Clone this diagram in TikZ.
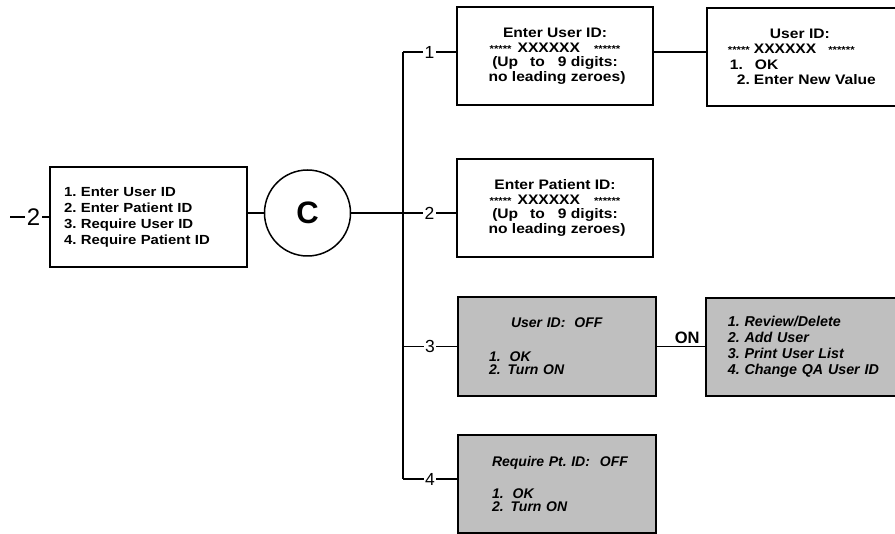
\documentclass[tikz,border=0pt]{standalone}
\usepackage{fontspec}
\setmainfont{Liberation Sans}
\newfontfamily\widesans[FakeStretch=1.13]{Liberation Sans}
\newcommand\astr[1]{{\fontsize{10}{10}\selectfont #1}}
\frenchspacing

\begin{document}
\begin{tikzpicture}[
  x=1pt,y=-1pt,
  wire/.style={draw=black,line width=1.5pt},
  scrn/.style={rectangle,draw=black,fill=white,line width=1.8pt,inner sep=0pt,
               align=center,font=\widesans\bfseries\fontsize{13.8}{14.5}\selectfont},
  greyscrn/.style={scrn,fill=black!25,align=left,
               font=\bfseries\itshape\fontsize{14}{13.5}\selectfont},
  num/.style={fill=white,inner sep=1.5pt,font=\fontsize{17.5}{17.5}\selectfont},
]
\clip (0,0) rectangle (895,534);

%% ---------------------------------------------------------------- menu C
\node[scrn,align=left,text width=169,inner xsep=14,minimum height=100,
      font=\widesans\bfseries\fontsize{13.2}{16}\selectfont] (menu) at (148.5,217)
  {1. Enter User ID\\ 2. Enter Patient ID\\ 3. Require User ID\\ 4. Require Patient ID};
\node[circle,draw,line width=1.5pt,minimum size=86,inner sep=0pt,
      font=\bfseries\fontsize{31}{31}\selectfont] (circ) at (307.5,213) {C};
\coordinate (lin) at (10,217);
\draw[wire] (lin) -- node[num,pos=0.6,font=\fontsize{24}{24}\selectfont] {2} (menu.west);
\draw[wire] (circ.west -| menu.east) -- (circ.west);

%% ---------------------------------------------------------------- screens
\node[scrn,minimum width=196,minimum height=98] (euid) at (555,56)
  {Enter User ID:\\
   \astr{*****}\hspace{6pt}XXXXXX\hspace{14pt}\astr{******}\\
   (Up\hspace{12pt}to\hspace{13pt}9 digits:\\
   \hspace*{4pt}no leading zeroes)};
\node[scrn,anchor=north west,align=left,text width=170,inner xsep=21,minimum height=98]
  (uval) at (706,7)
  {\hspace*{42pt}User ID:\\
   \astr{*****}\hspace{4pt}XXXXXX\hspace{12pt}\astr{******}\\[2pt]
   \hspace*{2pt}1.\hspace{12pt}OK\\
   \hspace*{9pt}2.\hspace{4pt}Enter New Value};
\node[scrn,minimum width=196,minimum height=98] (epid) at (555,208)
  {Enter Patient ID:\\
   \astr{*****}\hspace{6pt}XXXXXX\hspace{14pt}\astr{******}\\
   (Up\hspace{12pt}to\hspace{13pt}9 digits:\\
   \hspace*{4pt}no leading zeroes)};
\node[greyscrn,text width=136,inner xsep=31,minimum height=99] (uoff) at (557,346.5)
  {\hspace*{22pt}User ID:\hspace{9pt}OFF\\[20pt]
   1.\hspace{9pt}OK\\ 2.\hspace{7pt}Turn ON};
\node[greyscrn,anchor=north west,text width=180,inner xsep=22,minimum height=98,
      font=\bfseries\itshape\fontsize{14.3}{16}\selectfont] (uon) at (705,297)
  {1. Review/Delete\\ 2. Add User\\ 3. Print User List\\ 4. Change QA User ID};
\node[greyscrn,text width=130,inner xsep=34,minimum height=98] (poff) at (557,484)
  {\mbox{Require Pt. ID:\hspace{10pt}OFF}\\[18pt]
   1.\hspace{9pt}OK\\ 2.\hspace{7pt}Turn ON};

%% ---------------------------------------------------------------- trunk
\coordinate (tk1) at (403,52);
\coordinate (tk2) at (tk1 |- circ.east);
\coordinate (tk3) at (tk1 |- uoff.west);
\coordinate (tk4) at (403,479);
\draw[wire] (tk1) -- (tk4);
\draw[wire] (circ.east) -- (tk2);
\draw[wire] (tk1) -- node[num] {1} (tk1 -| euid.west);
\draw[wire] (tk2) -- node[num] {2} (tk2 -| epid.west);
\draw[wire] (tk3) -- node[num] {3} (uoff.west);
\draw[wire] (tk4) -- node[num] {4} (tk4 -| poff.west);
\draw[wire] (tk1 -| euid.east) -- (tk1 -| uval.west);
\draw[wire] (uoff.east) -- node[above,pos=0.63,inner sep=2pt,
      font=\bfseries\fontsize{16.5}{16.5}\selectfont] {ON} (uoff.east -| uon.west);

\end{tikzpicture}
\end{document}
